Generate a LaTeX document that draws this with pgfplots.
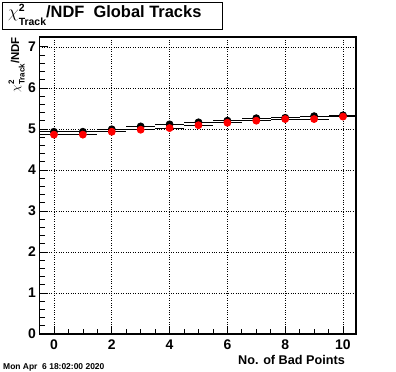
\documentclass[border=0pt]{standalone}
\usepackage{fontspec}
\setmainfont{Liberation Sans}
\usepackage{pgfplots}
\pgfplotsset{compat=1.18}
\pgfplotstableread{
x y ex
0 4.93 0.5
1 4.93 0.5
2 4.99 0.5
3 5.06 0.5
4 5.11 0.5
5 5.16 0.5
6 5.20 0.5
7 5.26 0.5
8 5.27 0.5
9 5.31 0.5
10 5.33 0.5
}\blackdata
\pgfplotstableread{
x y ex
0 4.86 0.5
1 4.86 0.5
2 4.93 0.5
3 4.98 0.5
4 5.02 0.5
5 5.09 0.5
6 5.15 0.5
7 5.20 0.5
8 5.24 0.5
9 5.24 0.5
10 5.30 0.5
}\reddata
\newcommand{\titlechi}{{\fontsize{16.5}{16.5}\selectfont$\chi$}\raisebox{-7.5bp}{\vbox{\fontsize{10.5}{14}\selectfont\bfseries\hbox{2}\hbox{Track}}}}
\begin{document}
\begin{tikzpicture}
\path[use as bounding box] (0,0) rectangle (396bp,372bp);
\begin{axis}[
  at={(39.5bp,38bp)}, anchor=south west,
  scale only axis, width=316.5bp, height=297bp,
  xmin=-0.5, xmax=10.45, ymin=0, ymax=7.24,
  xtick={0,2,...,10}, minor x tick num=3,
  ytick={0,1,...,7}, minor y tick num=4,
  tick align=inside, xtick pos=left, ytick pos=left,
  major tick length=8bp, minor tick length=5bp,
  grid=major, major grid style={black, dotted, line width=0.6pt},
  axis line style={line width=1.1pt},
  every tick/.style={black, line width=0.7pt},
  tick label style={font=\fontsize{14}{14}\selectfont\bfseries},
  /pgf/number format/assume math mode=true,
  xticklabel style={yshift=-2bp},
  clip=false,
]
\addplot[black, line width=0.8pt, only marks, mark=*, mark size=3.5bp, mark options={fill=black, draw=black},
  error bars/.cd, x dir=both, x explicit, error mark=none, error bar style={line width=0.8pt, black}]
  table[x=x, y=y, x error=ex] {\blackdata};
\addplot[black, line width=0.8pt, only marks, mark=*, mark size=3.5bp, mark options={fill=red, draw=red},
  error bars/.cd, x dir=both, x explicit, error mark=none, error bar style={line width=0.8pt, black}]
  table[x=x, y=y, x error=ex] {\reddata};
\end{axis}
\draw[line width=0.8pt] (2bp,343bp) rectangle (222bp,370bp);
\node[anchor=base west, inner sep=0, font=\fontsize{16.5}{16.5}\selectfont\bfseries] at (8bp,354bp) {\titlechi/NDF\ \ Global Tracks};
\node[rotate=90, anchor=base east, inner sep=0, font=\fontsize{11.5}{11.5}\selectfont\bfseries] at (19bp,335bp)
  {{\fontsize{12}{12}\selectfont$\chi$}\raisebox{-5.5bp}{\vbox{\fontsize{8}{10.5}\selectfont\bfseries\hbox{2}\hbox{Track}}}/NDF};
\node[anchor=base east, inner sep=0, font=\fontsize{12.7}{12.7}\selectfont\bfseries] at (345bp,8bp) {No. of Bad Points};
\node[anchor=base west, inner sep=0, font=\fontsize{8.5}{8.5}\selectfont\bfseries] at (3bp,3bp) {Mon Apr\ \ 6 18:02:00 2020};
\end{tikzpicture}
\end{document}
